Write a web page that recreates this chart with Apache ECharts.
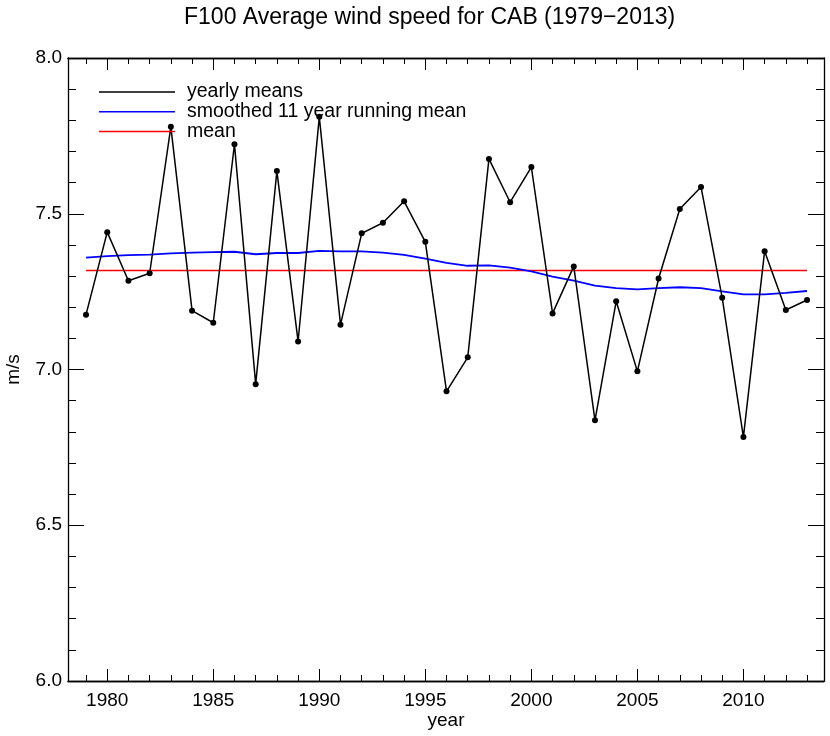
<!DOCTYPE html>
<html>
<head>
<meta charset="utf-8">
<script src="https://cdn.jsdelivr.net/npm/echarts@6/dist/echarts.min.js"></script>
<style>html,body{margin:0;padding:0;background:#fff;}#chart{width:830px;height:736px;}</style>
</head>
<body>
<div id="chart"></div>
<script>
var years = [1979,1980,1981,1982,1983,1984,1985,1986,1987,1988,1989,1990,1991,1992,1993,1994,1995,1996,1997,1998,1999,2000,2001,2002,2003,2004,2005,2006,2007,2008,2009,2010,2011,2012,2013];
var yearlyMeans = [7.176,7.441,7.285,7.309,7.779,7.189,7.150,7.723,6.953,7.637,7.090,7.811,7.144,7.437,7.471,7.540,7.410,6.930,7.039,7.676,7.537,7.650,7.180,7.331,6.837,7.219,6.994,7.292,7.515,7.586,7.230,6.783,7.380,7.191,7.223];
var smoothed = [7.359,7.364,7.367,7.369,7.373,7.375,7.377,7.378,7.370,7.374,7.374,7.381,7.379,7.379,7.375,7.368,7.356,7.342,7.333,7.334,7.327,7.315,7.298,7.285,7.269,7.261,7.257,7.261,7.264,7.261,7.251,7.241,7.241,7.246,7.252];
var meanValue = 7.318;
var xMajorTicks = [1980,1985,1990,1995,2000,2005,2010];
var legendNames = ['yearly means','smoothed 11 year running mean','mean'];
var legendColors = ['#000000','#0000ff','#ff0000'];

var FONT = '"Liberation Sans", Arial, Helvetica, sans-serif';
var chart = echarts.init(document.getElementById('chart'), null, {renderer:'canvas'});

function pairs(xs, ys){ return xs.map(function(x,i){return [x, ys[i]];}); }

var xMin = 1978.15, xMax = 2013.8;
function xAxisDef(pos, major, showLabel){
  return {
    type:'value', position:pos, min:xMin, max:xMax,
    axisLine:{show:true, onZero:false, lineStyle:{color:'#000', width:1.3}},
    axisTick:{show:true, inside:true, length: major?12:6, customValues: major?xMajorTicks:years, lineStyle:{color:'#000', width:1}},
    axisLabel:{show:showLabel, customValues:xMajorTicks, color:'#000', fontFamily:FONT, fontSize:19, margin:10,
      formatter:function(v){return String(Math.round(v));}},
    splitLine:{show:false},
    name: showLabel ? 'year' : '',
    nameLocation:'middle', nameGap:30, nameMoveOverlap:false,
    nameTextStyle:{color:'#000', fontFamily:FONT, fontSize:19}
  };
}
function yAxisDef(pos, showLabel){
  return {
    type:'value', position:pos, min:6, max:8, interval:0.5,
    axisLine:{show:true, onZero:false, lineStyle:{color:'#000', width:1.3}},
    axisTick:{show:true, inside:true, length:16, lineStyle:{color:'#000', width:1}},
    minorTick:{show:true, splitNumber:5, length:8, lineStyle:{color:'#000', width:1}},
    axisLabel:{show:showLabel, color:'#000', fontFamily:FONT, fontSize:19, margin:6, formatter:function(v){return v.toFixed(1);}},
    splitLine:{show:false}, minorSplitLine:{show:false},
    name: showLabel ? 'm/s' : '',
    nameLocation:'middle', nameGap:45, nameRotate:90, nameMoveOverlap:false,
    nameTextStyle:{color:'#000', fontFamily:FONT, fontSize:19}
  };
}

var legendGraphics = [];
legendNames.forEach(function(n,i){
  var y = 92 + i*19.7;
  legendGraphics.push({type:'line', shape:{x1:99,y1:y,x2:175,y2:y}, style:{stroke:legendColors[i], lineWidth:1.5}, z:100});
  legendGraphics.push({type:'text', x:187, y:y, style:{text:n, fill:'#000', font:'19.5px '+FONT, textVerticalAlign:'middle'}, z:100});
});

var option = {
  backgroundColor:'#fff',
  animation:false,
  title:{text:'F100 Average wind speed for CAB (1979\u22122013)', left:179, top:1,
    textStyle:{color:'#000', fontFamily:FONT, fontSize:23, fontWeight:'normal'}},
  grid:{left:68, right:6, top:58, bottom:55, containLabel:false, outerBoundsMode:'none'},
  xAxis:[xAxisDef('bottom',true,true), xAxisDef('bottom',false,false), xAxisDef('top',true,false), xAxisDef('top',false,false)],
  yAxis:[yAxisDef('left',true), yAxisDef('right',false)],
  graphic:legendGraphics,
  series:[
    {name:'mean', type:'line', data:[[years[0],meanValue],[years[years.length-1],meanValue]], showSymbol:false, symbol:'none',
      lineStyle:{color:'#ff0000', width:1.5}, z:2},
    {name:'smoothed 11 year running mean', type:'line', data:pairs(years, smoothed), showSymbol:false, symbol:'none', smooth:false,
      lineStyle:{color:'#0000ff', width:1.8}, z:3},
    {name:'yearly means', type:'line', data:pairs(years, yearlyMeans), symbol:'circle', symbolSize:6, showSymbol:true,
      itemStyle:{color:'#000'}, lineStyle:{color:'#000', width:1.5}, z:4}
  ]
};
chart.setOption(option);
</script>
</body>
</html>
